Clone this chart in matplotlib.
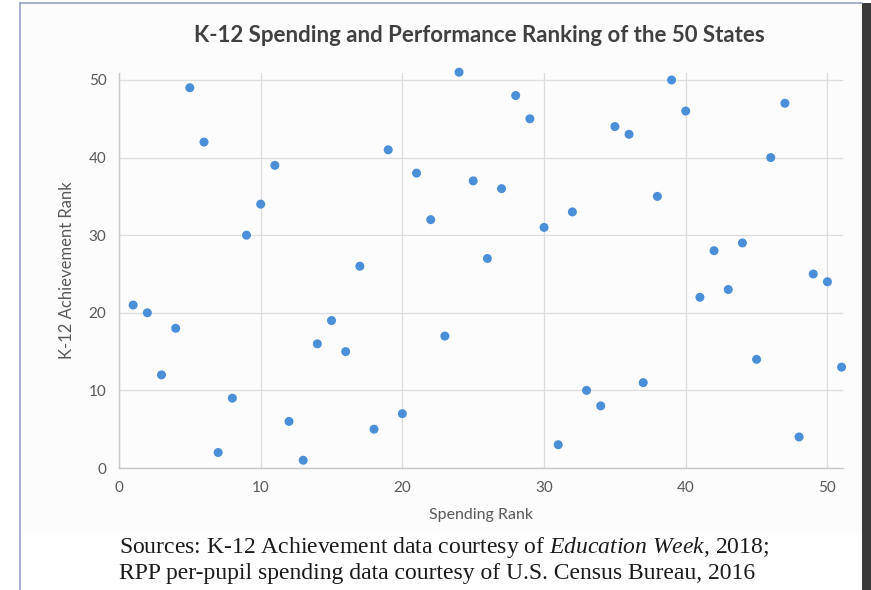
import matplotlib.pyplot as plt
from matplotlib.patches import Rectangle
from matplotlib.lines import Line2D

plt.rcParams["mathtext.fontset"] = "custom"
plt.rcParams["mathtext.it"] = "Liberation Serif:italic"
plt.rcParams["mathtext.rm"] = "Liberation Serif"

# Spending rank (x) vs K-12 achievement rank (y), 50 states + DC
spending_rank = list(range(1, 52))
achievement_rank = [
    21, 20, 12, 18, 49, 42, 2, 9, 30, 34,
    39, 6, 1, 16, 19, 15, 26, 5, 41, 7,
    38, 32, 17, 51, 37, 27, 36, 48, 45, 31,
    3, 33, 10, 8, 44, 43, 11, 35, 50, 46,
    22, 28, 23, 29, 14, 40, 47, 4, 25, 24,
    13,
]
x_ticks = [0, 10, 20, 30, 40, 50]
y_ticks = [0, 10, 20, 30, 40, 50]

title = "K-12 Spending and Performance Ranking of the 50 States"
source_lines = [
    r"Sources: K-12 Achievement data courtesy of $\it{Education\ Week}$, 2018;",
    "RPP per-pupil spending data courtesy of U.S. Census Bureau, 2016",
]

fig = plt.figure(figsize=(8.71, 5.90), dpi=100)
fig.patch.set_facecolor("white")

# chart frame: light chart area, thin border on left/top, dark shadow on the right
fig.add_artist(Rectangle((20 / 871, 1 - 535 / 590), 842 / 871, 532 / 590,
                         transform=fig.transFigure, facecolor="#fcfcfc",
                         edgecolor="none", zorder=-2))
fig.add_artist(Line2D([20 / 871, 20 / 871], [0, 1 - 3 / 590],
                      transform=fig.transFigure, color="#9aa3c8", lw=1.2))
fig.add_artist(Line2D([20 / 871, 862 / 871], [1 - 3 / 590, 1 - 3 / 590],
                      transform=fig.transFigure, color="#9aa3c8", lw=1.2))
fig.add_artist(Rectangle((862 / 871, 0), 9 / 871, 1 - 3 / 590,
                         transform=fig.transFigure, facecolor="#3a3a3a",
                         edgecolor="none"))

ax = fig.add_axes([119 / 871, 1 - 468 / 590, (843 - 119) / 871, (468 - 73) / 590])
ax.set_facecolor("none")

ax.scatter(spending_rank, achievement_rank, s=42, color="#4a8fd8",
           edgecolors="none", zorder=3, clip_on=False)

ax.set_xlim(0, 51.1)
ax.set_ylim(0, 50.9)
ax.set_xticks(x_ticks)
ax.set_yticks(y_ticks)
ax.grid(True, color="#dcdcdc", lw=0.9)
ax.set_axisbelow(True)

for side in ["top", "right"]:
    ax.spines[side].set_visible(False)
for side in ["left", "bottom"]:
    ax.spines[side].set_color("#c8c8c8")
    ax.spines[side].set_linewidth(1.0)

ax.tick_params(length=0, labelsize=11, labelcolor="#595959", pad=9)
for lbl in ax.get_xticklabels() + ax.get_yticklabels():
    lbl.set_fontfamily("Lato")

ax.set_xlabel("Spending Rank", fontsize=11.5, color="#595959",
              family="Lato", labelpad=10)
ax.set_ylabel("K-12 Achievement Rank", fontsize=12, color="#595959",
              family="Lato", labelpad=10)

fig.text(479 / 871, 1 - 36 / 590, title, ha="center", va="center",
         fontsize=16, fontweight="bold", color="#404040", family="Lato")

for i, line in enumerate(source_lines):
    fig.text(119 / 871, 1 - (548 + 25 * i) / 590, line, ha="left", va="center",
             fontsize=17, color="#1a1a1a", family="Liberation Serif")

fig.savefig("out.png", dpi=100)
